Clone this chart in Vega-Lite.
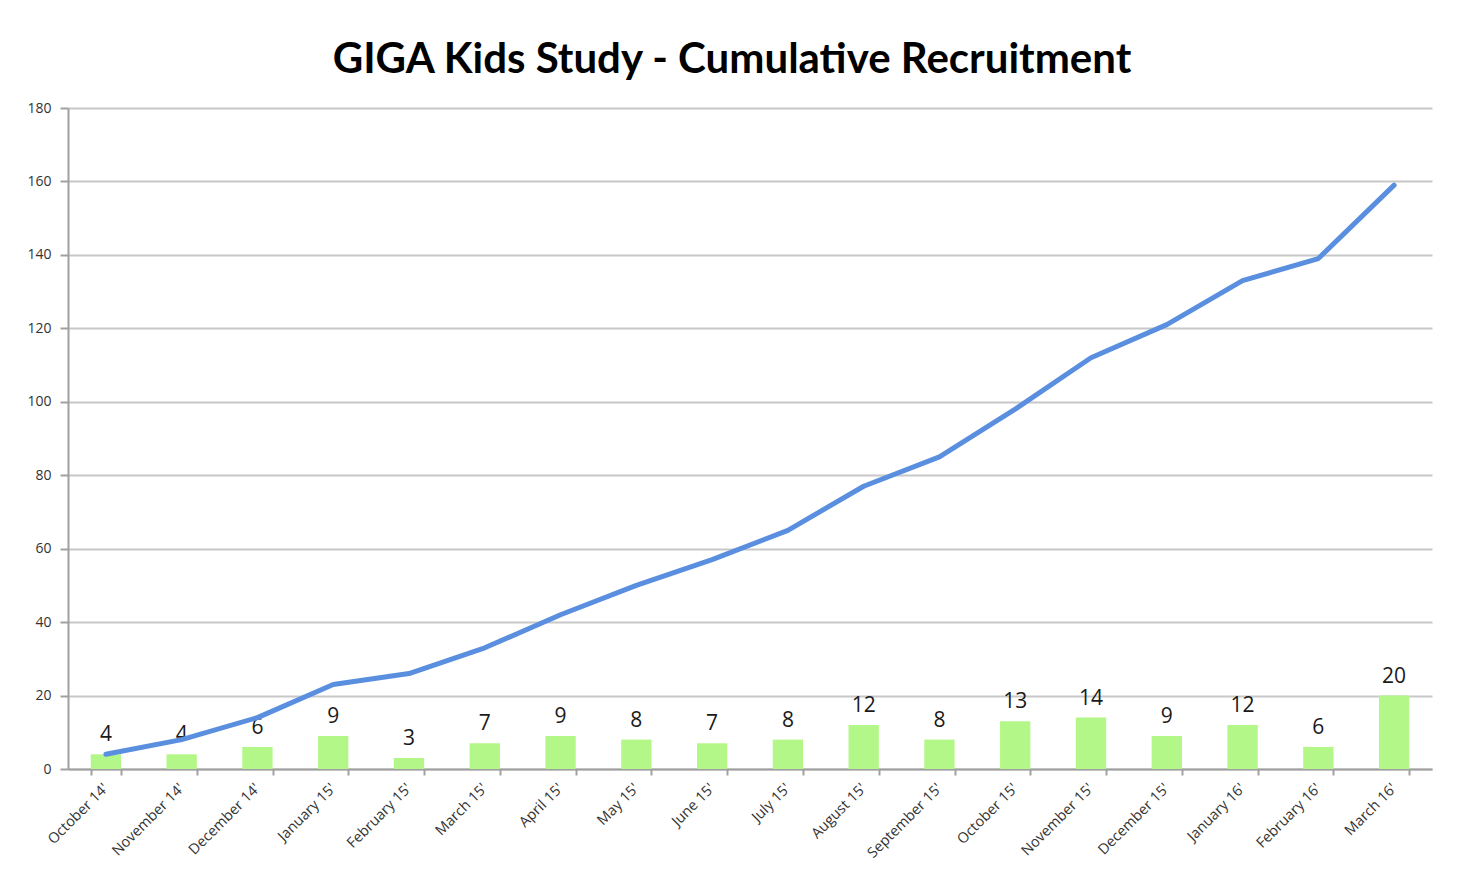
{
  "$schema": "https://vega.github.io/schema/vega-lite/v6.json",
  "autosize": {"type": "none"},
  "width": 1364,
  "height": 661,
  "padding": {"left": 68, "top": 108, "right": 26, "bottom": 113},
  "background": "white",
  "config": {
    "view": {"stroke": null},
    "font": "Open Sans"
  },
  "title": {
    "text": "GIGA Kids Study - Cumulative Recruitment",
    "fontSize": 42,
    "fontWeight": "bold",
    "font": "Lato",
    "color": "#000000",
    "offset": 19,
    "dx": -18
  },
  "data": {
    "values": [
      {"month": "October 14'", "recruited": 4, "cumulative": 4},
      {"month": "November 14'", "recruited": 4, "cumulative": 8},
      {"month": "December 14'", "recruited": 6, "cumulative": 14},
      {"month": "January 15'", "recruited": 9, "cumulative": 23},
      {"month": "February 15'", "recruited": 3, "cumulative": 26},
      {"month": "March 15'", "recruited": 7, "cumulative": 33},
      {"month": "April 15'", "recruited": 9, "cumulative": 42},
      {"month": "May 15'", "recruited": 8, "cumulative": 50},
      {"month": "June 15'", "recruited": 7, "cumulative": 57},
      {"month": "July 15'", "recruited": 8, "cumulative": 65},
      {"month": "August 15'", "recruited": 12, "cumulative": 77},
      {"month": "September 15'", "recruited": 8, "cumulative": 85},
      {"month": "October 15'", "recruited": 13, "cumulative": 98},
      {"month": "November 15'", "recruited": 14, "cumulative": 112},
      {"month": "December 15'", "recruited": 9, "cumulative": 121},
      {"month": "January 16'", "recruited": 12, "cumulative": 133},
      {"month": "February 16'", "recruited": 6, "cumulative": 139},
      {"month": "March 16'", "recruited": 20, "cumulative": 159}
    ]
  },
  "encoding": {
    "x": {
      "field": "month",
      "type": "nominal",
      "sort": null,
      "scale": {"paddingInner": 0.6, "paddingOuter": 0.3, "align": 0.5},
      "axis": {
        "title": null,
        "labelAngle": -45,
        "labelAlign": "right",
        "labelBaseline": "middle",
        "labelFontSize": 14.5,
        "labelColor": "#333333",
        "labelPadding": 11,
        "tickBand": "extent",
        "tickColor": "#a0a0a0",
        "tickWidth": 2,
        "tickSize": 6,
        "domainColor": "#a0a0a0",
        "domainWidth": 2,
        "grid": false
      }
    }
  },
  "layer": [
    {
      "mark": {"type": "bar", "color": "#b2f787"},
      "encoding": {
        "y": {
          "field": "recruited",
          "type": "quantitative",
          "scale": {"domain": [0, 180], "nice": false},
          "axis": {
            "title": null,
            "values": [0, 20, 40, 60, 80, 100, 120, 140, 160, 180],
            "labelFontSize": 14,
            "labelColor": "#333333",
            "labelPadding": 9,
            "grid": true,
            "gridColor": "#c8c8c8",
            "gridWidth": 2,
            "tickColor": "#a0a0a0",
            "tickWidth": 2,
            "tickSize": 8,
            "domainColor": "#a0a0a0",
            "domainWidth": 2
          }
        }
      }
    },
    {
      "mark": {"type": "text", "baseline": "bottom", "dy": -9, "fontSize": 21, "color": "#1a1a1a", "font": "Open Sans"},
      "encoding": {
        "y": {"field": "recruited", "type": "quantitative"},
        "text": {"field": "recruited", "type": "quantitative"}
      }
    },
    {
      "mark": {"type": "line", "color": "#5a8fdf", "strokeWidth": 5, "strokeCap": "round", "strokeJoin": "round"},
      "encoding": {
        "y": {"field": "cumulative", "type": "quantitative"}
      }
    }
  ]
}
